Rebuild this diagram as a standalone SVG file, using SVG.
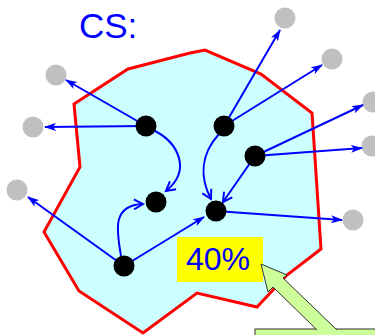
<svg xmlns="http://www.w3.org/2000/svg" width="375" height="335" viewBox="0 0 375 335">
<style>
.region{fill:#CCFFFF;stroke:#FF0000;stroke-width:3;stroke-linejoin:miter}
.node{fill:#000000}
.ext{fill:#C0C0C0}
.edge{fill:none;stroke:#0000FF;stroke-width:2}
.lbl{font-family:"Liberation Sans",Arial,sans-serif;fill:#0000FF}
.callout{fill:#CCFF99;stroke:#333333;stroke-width:1}
</style>
<defs>
<marker id="ah" viewBox="0 0 12 8" refX="11" refY="4" markerWidth="12" markerHeight="8" markerUnits="userSpaceOnUse" orient="auto">
<path d="M0,0 L12,4 L0,8 L3,4 Z" fill="#0000FF"/>
</marker>
<marker id="av" viewBox="0 0 12 12" refX="10" refY="6" markerWidth="12" markerHeight="12" markerUnits="userSpaceOnUse" orient="auto">
<path d="M1,1 L10,6 L1,11" fill="none" stroke="#0000FF" stroke-width="2"/>
</marker>
</defs>
<rect width="375" height="335" fill="#FFFFFF"/>
<text class="lbl" x="79" y="38" font-size="35">CS:</text>
<polygon class="region" points="128,69 190,53 205,50 261,74 312,113 321,249 287,275 257,307 197,293 143,333 79,291 44,232 80,167 74,104"/>
<g id="ext-nodes">
<circle id="g1" class="ext" cx="56" cy="75" r="10.5"/>
<circle id="g2" class="ext" cx="33" cy="127" r="10.5"/>
<circle id="g3" class="ext" cx="17" cy="190" r="10.5"/>
<circle id="g4" class="ext" cx="285" cy="18" r="10.5"/>
<circle id="g5" class="ext" cx="332" cy="59" r="10.5"/>
<circle id="g6" class="ext" cx="373" cy="102" r="10.5"/>
<circle id="g7" class="ext" cx="372" cy="146" r="10.5"/>
<circle id="g8" class="ext" cx="353" cy="220" r="10.5"/>
</g>
<g id="connectors">
<line class="edge" x1="146" y1="126" x2="66" y2="80" marker-end="url(#ah)"/>
<line class="edge" x1="146" y1="126" x2="45" y2="127" marker-end="url(#ah)"/>
<path class="edge" d="M155,131 C178,143 192,170 166,191" marker-end="url(#av)"/>
<path class="edge" d="M121,256 C117,232 111,205 143,204" marker-end="url(#av)"/>
<line class="edge" x1="124" y1="266" x2="28" y2="197" marker-end="url(#ah)"/>
<line class="edge" x1="124" y1="266" x2="204" y2="217" marker-end="url(#ah)"/>
<line class="edge" x1="224" y1="126" x2="280" y2="30" marker-end="url(#ah)"/>
<line class="edge" x1="224" y1="126" x2="322" y2="65" marker-end="url(#ah)"/>
<path class="edge" d="M219,134 C200,155 200,178 211,199" marker-end="url(#av)"/>
<line class="edge" x1="255" y1="156" x2="363" y2="105" marker-end="url(#ah)"/>
<line class="edge" x1="255" y1="156" x2="362" y2="148" marker-end="url(#ah)"/>
<line class="edge" x1="255" y1="156" x2="223" y2="202" marker-end="url(#av)"/>
<line class="edge" x1="216" y1="211" x2="342" y2="220" marker-end="url(#ah)"/>
</g>
<g id="nodes">
<circle id="a" class="node" cx="146" cy="126" r="10.5"/>
<circle id="b" class="node" cx="224" cy="126" r="10.5"/>
<circle id="c" class="node" cx="255" cy="156" r="10.5"/>
<circle id="d" class="node" cx="156" cy="202" r="10.5"/>
<circle id="e" class="node" cx="216" cy="211" r="10.5"/>
<circle id="f" class="node" cx="124" cy="266" r="10.5"/>
</g>
<g id="label-40">
<rect x="177" y="237" width="86" height="45" fill="#FFFF00"/>
<text class="lbl" x="186" y="270" font-size="32">40%</text>
</g>
<g id="callout">
<rect class="callout" x="255" y="329" width="130" height="20"/>
<path class="callout" d="M317,330 L273,287 L268,292 L261,264 L287,275 L283,278 L337,330"/>
</g>
</svg>
